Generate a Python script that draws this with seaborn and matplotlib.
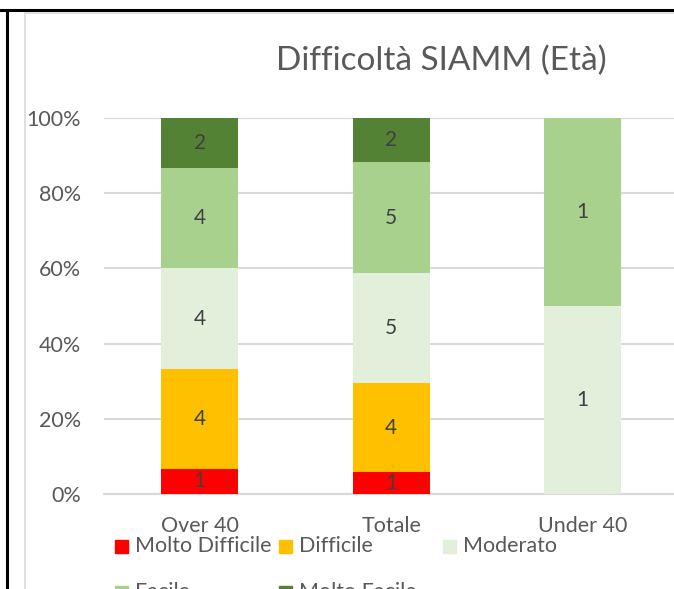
import numpy as np
import pandas as pd
import matplotlib
matplotlib.use("Agg")
import matplotlib.pyplot as plt
from matplotlib.lines import Line2D
from matplotlib.patches import Rectangle
import seaborn as sns

categories = ["Over 40", "Totale", "Under 40"]
levels = ["Molto Difficile", "Difficile", "Moderato", "Facile", "Molto Facile"]
molto_difficile = [1, 1, 0]
difficile = [4, 4, 0]
moderato = [4, 5, 1]
facile = [4, 5, 1]
molto_facile = [2, 2, 0]
colors = ["#FF0000", "#FFC000", "#E2EFDA", "#A9D18E", "#548235"]

counts = pd.DataFrame(
    [molto_difficile, difficile, moderato, facile, molto_facile],
    index=levels, columns=categories,
)
shares = counts / counts.sum(axis=0) * 100

sns.set_style("white")
plt.rcParams["font.family"] = ["Lato", "DejaVu Sans"]
grey = "#595959"

W, H = 674, 589
fig = plt.figure(figsize=(W / 100, H / 100), dpi=100)

# document frame + chart area border
fig.add_artist(Line2D([0, 1], [1 - 10 / H, 1 - 10 / H], color="black", lw=2.2))
fig.add_artist(Line2D([7 / W, 7 / W], [0, 1 - 10 / H], color="black", lw=2.2))
fig.add_artist(Line2D([25 / W, 1], [1 - 13 / H, 1 - 13 / H], color="#D9D9D9", lw=1.2))
fig.add_artist(Line2D([25 / W, 25 / W], [0, 1 - 13 / H], color="#D9D9D9", lw=1.2))

ax = fig.add_axes([104 / W, 1 - 494 / H, 574.5 / W, 376 / H])

bottom = np.zeros(len(categories))
for lvl, col in zip(levels, colors):
    vals = shares.loc[lvl].values
    sns.barplot(x=categories, y=vals, bottom=bottom, color=col, width=0.4,
                order=categories, ax=ax, saturation=1, edgecolor="none", zorder=3)
    for i, (v, n) in enumerate(zip(vals, counts.loc[lvl].values)):
        if n > 0:
            ax.text(i, bottom[i] + v / 2, str(n), ha="center", va="center",
                    fontsize=15, color="#404040", zorder=4)
    bottom += vals

ax.set_xlim(-0.5, 2.5)
ax.set_ylim(0, 100)
ax.set_yticks(range(0, 101, 20))
ax.set_yticklabels([f"{t}%" for t in range(0, 101, 20)])
ax.yaxis.grid(True, color="#D9D9D9", lw=1.5, zorder=0)
ax.set_axisbelow(True)
for s in ["top", "right", "left"]:
    ax.spines[s].set_visible(False)
ax.spines["bottom"].set_color("#D9D9D9")
ax.spines["bottom"].set_linewidth(1.5)
ax.tick_params(axis="both", length=0, labelsize=15.5, labelcolor=grey)
ax.tick_params(axis="y", pad=16.5)
ax.tick_params(axis="x", pad=16)
ax.set_xlabel("")
ax.set_ylabel("")

fig.text(441 / W, 1 - 61 / H, "Difficoltà SIAMM (Età)", ha="center", va="center",
         fontsize=24, color=grey)

# legend, Excel style columns
legend_pos = [(115, 546), (279, 546), (443, 546), (115, 592), (279, 592)]
for (lx, ly), lvl, col in zip(legend_pos, levels, colors):
    fig.add_artist(Rectangle((lx / W, 1 - (ly + 7) / H), 13 / W, 13 / H,
                             transform=fig.transFigure, color=col))
    fig.text((lx + 20) / W, 1 - ly / H, lvl, ha="left", va="center",
             fontsize=15.5, color=grey)

fig.savefig("out.png", dpi=100)
